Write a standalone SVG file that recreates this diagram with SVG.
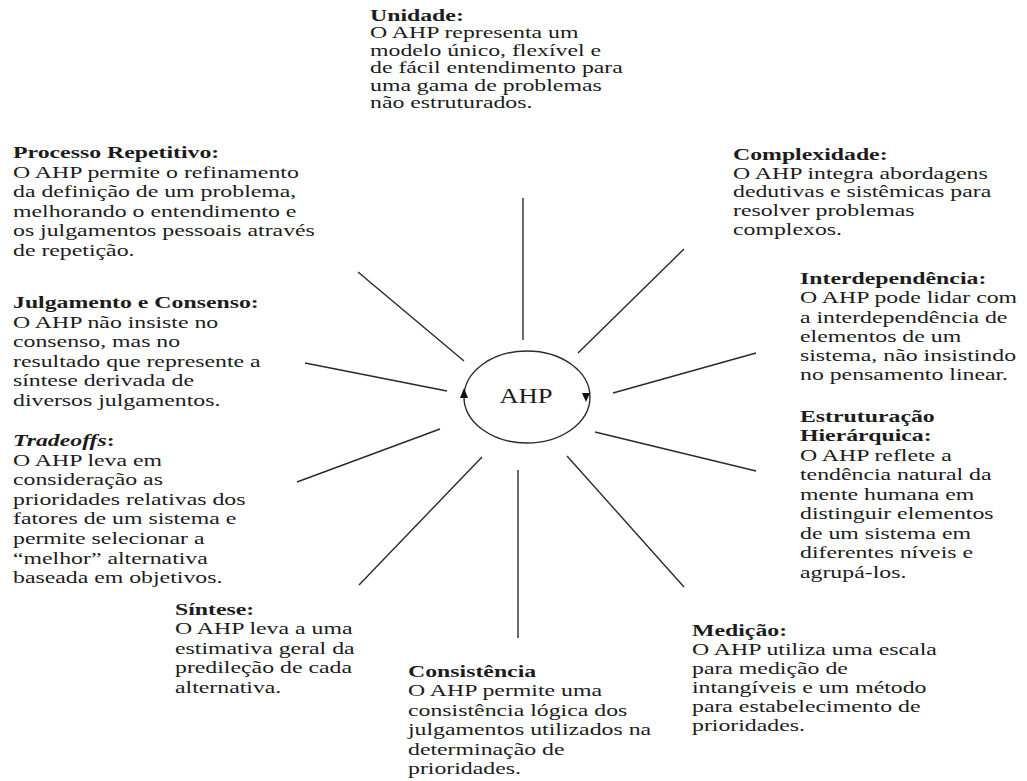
<svg xmlns="http://www.w3.org/2000/svg" width="1027" height="781" viewBox="0 0 1027 781">
<style>
.t{font-family:"Liberation Serif","Times New Roman",serif;font-size:17.5px;fill:#1c1c1c}
.s{font-size:16.3px}
.b{font-weight:bold}
.i{font-style:italic}
.ln{stroke:#2a2a2a;stroke-width:1.4;fill:none}
</style>
<rect width="1027" height="781" fill="#ffffff"/>
<g id="connectors">
<line class="ln" x1="523" y1="198" x2="523" y2="340"/>
<line class="ln" x1="684" y1="249" x2="578" y2="353"/>
<line class="ln" x1="756" y1="353" x2="613" y2="393"/>
<line class="ln" x1="756" y1="471" x2="595" y2="432"/>
<line class="ln" x1="684" y1="587" x2="567" y2="456"/>
<line class="ln" x1="518" y1="638" x2="518" y2="470"/>
<line class="ln" x1="359" y1="585" x2="482" y2="457"/>
<line class="ln" x1="297" y1="482" x2="440" y2="429"/>
<line class="ln" x1="305" y1="363" x2="447" y2="391"/>
<line class="ln" x1="358" y1="272" x2="464" y2="361"/>
</g>
<g id="ahp">
<ellipse class="ln" cx="527" cy="397" rx="63" ry="46"/>
<path d="M464,388 L460,398 L468,398 Z" fill="#111"/>
<path d="M586,402 L582,393 L590,393 Z" fill="#111"/>
<g transform="translate(526,403) scale(1.33,1)"><text class="t" x="0" y="0" text-anchor="middle" style="font-size:20px">AHP</text></g>
</g>
<g id="unidade" transform="translate(370,21) scale(1.46,1)">
<text class="t s"><tspan class="b" x="0" y="0">Unidade:</tspan><tspan x="0" y="17.4">O AHP representa um</tspan><tspan x="0" y="34.8">modelo único, flexível e</tspan><tspan x="0" y="52.2">de fácil entendimento para</tspan><tspan x="0" y="69.6">uma gama de problemas</tspan><tspan x="0" y="87">não estruturados.</tspan></text>
</g>
<g id="processo" transform="translate(13,158) scale(1.36,1)">
<text class="t"><tspan class="b" x="0" y="0">Processo Repetitivo:</tspan><tspan x="0" y="19.6">O AHP permite o refinamento</tspan><tspan x="0" y="39.2">da definição de um problema,</tspan><tspan x="0" y="58.8">melhorando o entendimento e</tspan><tspan x="0" y="78.4">os julgamentos pessoais através</tspan><tspan x="0" y="98">de repetição.</tspan></text>
</g>
<g id="complexidade" transform="translate(733,160) scale(1.36,1)">
<text class="t"><tspan class="b" x="0" y="0">Complexidade:</tspan><tspan x="0" y="18.7">O AHP integra abordagens</tspan><tspan x="0" y="37.4">dedutivas e sistêmicas para</tspan><tspan x="0" y="56.1">resolver problemas</tspan><tspan x="0" y="74.8">complexos.</tspan></text>
</g>
<g id="interdependencia" transform="translate(800,284) scale(1.36,1)">
<text class="t"><tspan class="b" x="0" y="0">Interdependência:</tspan><tspan x="0" y="19.3">O AHP pode lidar com</tspan><tspan x="0" y="38.6">a interdependência de</tspan><tspan x="0" y="57.9">elementos de um</tspan><tspan x="0" y="77.2">sistema, não insistindo</tspan><tspan x="0" y="96.5">no pensamento linear.</tspan></text>
</g>
<g id="estruturacao" transform="translate(800,422) scale(1.36,1)">
<text class="t"><tspan class="b" x="0" y="0">Estruturação</tspan><tspan class="b" x="0" y="19.5">Hierárquica:</tspan><tspan x="0" y="39">O AHP reflete a</tspan><tspan x="0" y="58.5">tendência natural da</tspan><tspan x="0" y="78">mente humana em</tspan><tspan x="0" y="97.5">distinguir elementos</tspan><tspan x="0" y="117">de um sistema em</tspan><tspan x="0" y="136.5">diferentes níveis e</tspan><tspan x="0" y="156">agrupá-los.</tspan></text>
</g>
<g id="julgamento" transform="translate(13,308) scale(1.36,1)">
<text class="t"><tspan class="b" x="0" y="0">Julgamento e Consenso:</tspan><tspan x="0" y="19.6">O AHP não insiste no</tspan><tspan x="0" y="39.2">consenso, mas no</tspan><tspan x="0" y="58.8">resultado que represente a</tspan><tspan x="0" y="78.4">síntese derivada de</tspan><tspan x="0" y="98">diversos julgamentos.</tspan></text>
</g>
<g id="tradeoffs" transform="translate(13,446) scale(1.36,1)">
<text class="t"><tspan class="b i" x="0" y="0">Tradeoffs</tspan><tspan class="b">:</tspan><tspan x="0" y="19.6">O AHP leva em</tspan><tspan x="0" y="39.2">consideração as</tspan><tspan x="0" y="58.8">prioridades relativas dos</tspan><tspan x="0" y="78.4">fatores de um sistema e</tspan><tspan x="0" y="98">permite selecionar a</tspan><tspan x="0" y="117.6">“melhor” alternativa</tspan><tspan x="0" y="137.2">baseada em objetivos.</tspan></text>
</g>
<g id="sintese" transform="translate(175,615) scale(1.36,1)">
<text class="t"><tspan class="b" x="0" y="0">Síntese:</tspan><tspan x="0" y="19.4">O AHP leva a uma</tspan><tspan x="0" y="38.8">estimativa geral da</tspan><tspan x="0" y="58.2">predileção de cada</tspan><tspan x="0" y="77.6">alternativa.</tspan></text>
</g>
<g id="consistencia" transform="translate(408,677) scale(1.36,1)">
<text class="t"><tspan class="b" x="0" y="0">Consistência</tspan><tspan x="0" y="19.5">O AHP permite uma</tspan><tspan x="0" y="39">consistência lógica dos</tspan><tspan x="0" y="58.5">julgamentos utilizados na</tspan><tspan x="0" y="78">determinação de</tspan><tspan x="0" y="97.5">prioridades.</tspan></text>
</g>
<g id="medicao" transform="translate(692,636) scale(1.36,1)">
<text class="t"><tspan class="b" x="0" y="0">Medição:</tspan><tspan x="0" y="19">O AHP utiliza uma escala</tspan><tspan x="0" y="38">para medição de</tspan><tspan x="0" y="57">intangíveis e um método</tspan><tspan x="0" y="76">para estabelecimento de</tspan><tspan x="0" y="95">prioridades.</tspan></text>
</g>
</svg>
